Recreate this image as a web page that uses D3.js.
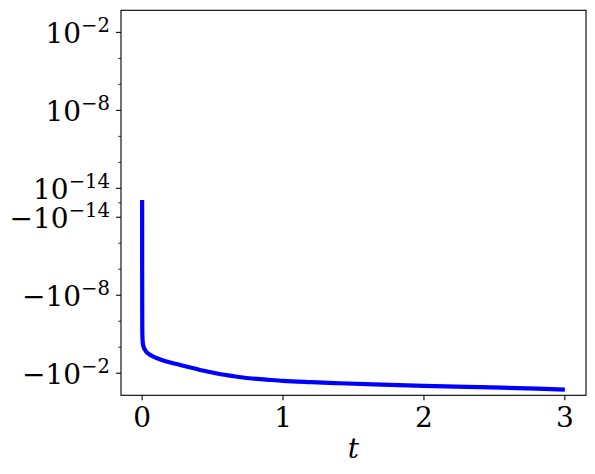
<!DOCTYPE html>
<html>
<head>
<meta charset="utf-8">
<script src="https://cdn.jsdelivr.net/npm/d3@7"></script>
<style>
  body { margin: 0; background: #fff; }
  svg { display: block; font-family: "DejaVu Serif", serif; }
</style>
</head>
<body>
<div id="chart"></div>
<script>
// curve samples
const tValues = [0, 0.0003, 0.0006, 0.001, 0.002, 0.005, 0.01, 0.02, 0.03, 0.05, 0.08, 0.12,
  0.2, 0.27, 0.35, 0.41, 0.48, 0.55, 0.65, 0.76, 0.88, 1.0, 1.2, 1.4, 1.7, 2.0, 2.3, 2.55, 2.8, 3.0];
const yValues = [2e-15, -1e-10, -3e-8, -2e-6, -1.5e-5, -5e-5, -9e-5, -1.6e-4, -2.3e-4, -3.5e-4, -5.3e-4, -8e-4,
  -1.5e-3, -2.3e-3, -3.8e-3, -5.6e-3, -8e-3, -0.0115, -0.017, -0.0245, -0.031, -0.039, -0.049, -0.059,
  -0.076, -0.095, -0.112, -0.129, -0.155, -0.18];

const xTicks = [0, 1, 2, 3];
const yMajorExps = [-2, -8, -14];              // ticks at +/-10^e
const yMinorExps = [-4, -6, -10, -12];
const xDomain = [-0.15, 3.15];
const yDomain = [-0.5, 0.5];
const linthresh = 1e-14;

const width = 595, height = 474;
const margin = { left: 121, right: 9, top: 10.3, bottom: 78.7 };

// matplotlib-style symlog transform (base 10, linscale 1)
const linscaleAdj = 1 / (1 - 1 / 10);
function symlog(v) {
  const a = Math.abs(v);
  if (a <= linthresh) return v / linthresh * linscaleAdj;
  return Math.sign(v) * (linscaleAdj + Math.log10(a / linthresh));
}

const svg = d3.select('#chart').append('svg')
  .attr('width', width)
  .attr('height', height);

const x = d3.scaleLinear()
  .domain(xDomain)
  .range([margin.left, width - margin.right]);

const yLin = d3.scaleLinear()
  .domain(yDomain.map(symlog))
  .range([height - margin.bottom, margin.top]);
const y = v => yLin(symlog(v));

// curve
const line = d3.line()
  .x((d, i) => x(tValues[i]))
  .y(d => y(d))
  .curve(d3.curveMonotoneX);

svg.append('path')
  .datum(yValues)
  .attr('d', line)
  .attr('fill', 'none')
  .attr('stroke', '#0000ff')
  .attr('stroke-width', 4.2);

// frame
svg.append('rect')
  .attr('x', margin.left)
  .attr('y', margin.top)
  .attr('width', width - margin.right - margin.left)
  .attr('height', height - margin.bottom - margin.top)
  .attr('fill', 'none')
  .attr('stroke', '#000')
  .attr('stroke-width', 1.1);

// x axis
const xAxis = svg.append('g');
xAxis.selectAll('line')
  .data(xTicks)
  .join('line')
  .attr('x1', d => x(d)).attr('x2', d => x(d))
  .attr('y1', height - margin.bottom).attr('y2', height - margin.bottom + 4.9)
  .attr('stroke', '#000').attr('stroke-width', 1.1);
xAxis.selectAll('text')
  .data(xTicks)
  .join('text')
  .attr('x', d => x(d))
  .attr('y', 427)
  .attr('text-anchor', 'middle')
  .style('font-size', '28px')
  .text(d => d);

svg.append('text')
  .attr('x', (margin.left + width - margin.right) / 2)
  .attr('y', 458)
  .attr('text-anchor', 'middle')
  .style('font-size', '28px')
  .style('font-style', 'italic')
  .text('t');

// y axis
const yMajor = [];
yMajorExps.forEach(e => { yMajor.push({ v: Math.pow(10, e), e, neg: false }); yMajor.push({ v: -Math.pow(10, e), e, neg: true }); });
const yMinor = [0];
yMinorExps.forEach(e => { yMinor.push(Math.pow(10, e)); yMinor.push(-Math.pow(10, e)); });

const yAxis = svg.append('g');
yAxis.selectAll('line.major')
  .data(yMajor)
  .join('line')
  .attr('class', 'major')
  .attr('x1', margin.left - 4.9).attr('x2', margin.left)
  .attr('y1', d => y(d.v)).attr('y2', d => y(d.v))
  .attr('stroke', '#000').attr('stroke-width', 1.1);
yAxis.selectAll('line.minor')
  .data(yMinor)
  .join('line')
  .attr('class', 'minor')
  .attr('x1', margin.left - 2.8).attr('x2', margin.left)
  .attr('y1', d => y(d)).attr('y2', d => y(d))
  .attr('stroke', '#000').attr('stroke-width', 0.8);

const labels = yAxis.selectAll('text')
  .data(yMajor)
  .join('text')
  .attr('x', 110)
  .attr('y', d => y(d.v) + 11)
  .attr('text-anchor', 'end')
  .style('font-size', '28px');
labels.append('tspan').text(d => (d.neg ? '\u2212' : '') + '10');
labels.append('tspan')
  .attr('dy', -11.5)
  .style('font-size', '19.6px')
  .text(d => '\u2212' + Math.abs(d.e));
</script>
</body>
</html>
